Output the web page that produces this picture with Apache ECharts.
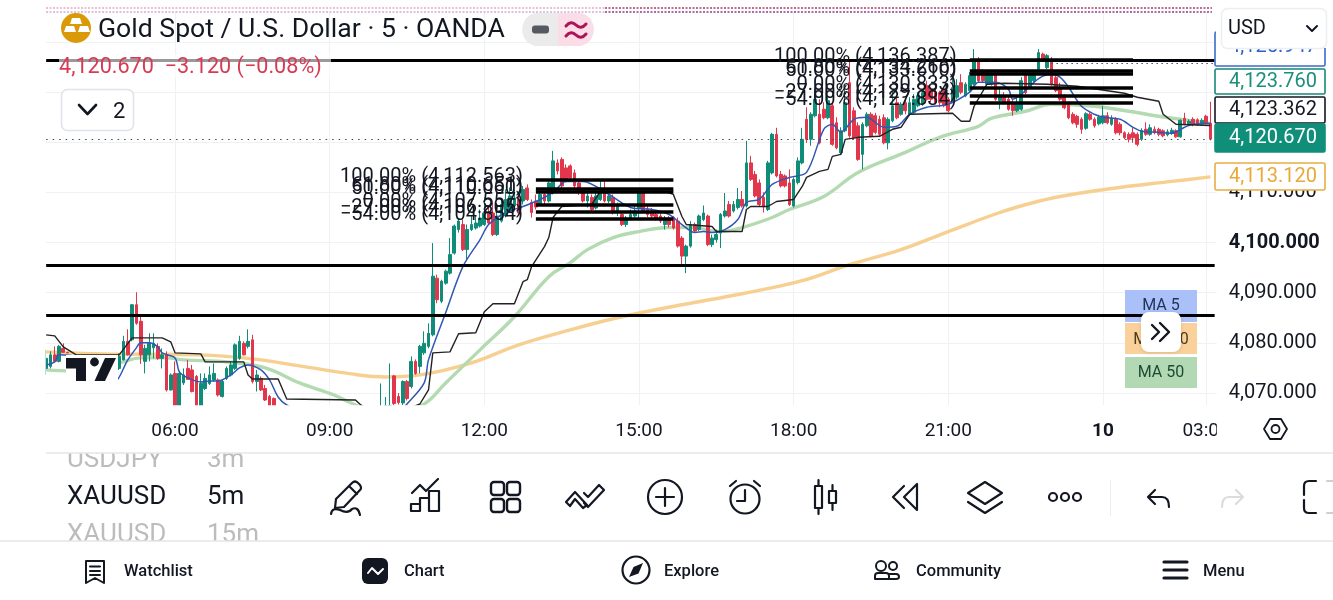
<!DOCTYPE html>
<html>
<head>
<meta charset="utf-8">
<style>html,body{margin:0;padding:0;background:#fff}#chart{width:1333px;height:600px}</style>
<script src="https://cdn.jsdelivr.net/npm/echarts@6/dist/echarts.min.js"></script>
</head>
<body>
<div id="chart"></div>
<script>
// XAUUSD 5-minute bars: [open, close, low, high]
const candles = [
[4074.9,4076.9,4073.6,4078.6],[4075.3,4077.6,4074.9,4078.3],[4077.6,4076.3,4076.1,4079.3],[4076.3,4079.3,4076.1,4079.6],[4078.9,4078.1,4078.0,4079.9],
[4078.1,4078.0,4077.9,4078.2],[4077,4076,4075.8,4077.2],[4076,4075,4074.5,4076.5],[4075,4075.4,4074.5,4076],[4075.4,4074.6,4074,4075.8],
[4074.6,4075.2,4074,4075.8],[4075.2,4074.2,4073.8,4075.6],[4074.2,4073.6,4073.2,4074.8],[4073.6,4074,4073,4074.4],[4074,4073.2,4072.8,4074.2],
[4073.6,4072.4,4072.2,4074],[4072.9,4075.3,4072.3,4077.3],[4074.9,4077.3,4074.6,4077.9],[4076.6,4080.3,4076.5,4081.4],[4080.3,4077.6,4077.5,4082.7],
[4080.6,4087.6,4080.3,4087.7],[4087.6,4083.9,4083.6,4090.1],[4084.3,4077.6,4075.8,4085.3],[4076.3,4078.9,4073.9,4079.6],[4077.6,4079.9,4076.3,4081.9],
[4079,4079.9,4076.9,4081.9],[4079.3,4076.9,4076.6,4079.9],[4076.9,4077.6,4074.9,4078.9],[4077.6,4070.6,4070.3,4078.3],[4070.6,4073.6,4070.5,4073.9],
[4073.9,4066.5,4065,4076.3],[4066.5,4073.9,4066,4074.3],[4072,4073.6,4071.6,4074.9],[4074.9,4072.7,4072.6,4076.6],[4074.6,4070.3,4070.1,4075.6],
[4073.3,4066.6,4065.5,4073.6],[4066.6,4071.9,4066,4073.9],[4070.9,4072.9,4070.6,4073.9],[4071.9,4073.6,4071.6,4075.3],[4072.6,4073.9,4072.3,4075.9],
[4072.6,4069.6,4069.3,4072.9],[4069.3,4072.3,4069.1,4072.6],[4072.9,4074.9,4072.6,4075.3],[4073.6,4075.6,4073.3,4076.3],[4074.9,4079.6,4074.6,4079.9],
[4076.9,4080.3,4076.6,4081.4],[4079.9,4077.6,4077.5,4080.3],[4079.3,4080.3,4078.9,4082.7],[4080.6,4072.3,4071.9,4081.6],[4072.3,4073.6,4070.3,4074.6],
[4072.9,4070.6,4070.4,4073.3],[4070.9,4068.6,4068.4,4071.6],[4069.3,4067.4,4066.8,4069.6],[4068.9,4067,4066,4069.1],[4067.3,4066.1,4065.4,4067.5],
[4066.1,4065.4,4064.8,4066.6],[4065.4,4064.7,4064.2,4065.9],[4064.7,4065.3,4064.1,4065.8],[4065.3,4064.4,4063.9,4065.6],[4064.4,4063.8,4063.2,4064.9],
[4063.8,4064.5,4063.4,4064.9],[4064.5,4063.6,4063.1,4064.8],[4063.6,4063.1,4062.6,4064],[4063.1,4063.7,4062.8,4064.1],[4063.7,4062.9,4062.4,4064],
[4062.9,4063.4,4062.5,4063.8],[4063.4,4062.6,4062.2,4063.7],[4062.6,4063.2,4062.3,4063.6],[4063.2,4062.7,4062.2,4063.5],[4062.7,4063.5,4062.4,4063.9],
[4063.5,4063,4062.6,4063.9],[4063,4063.8,4062.7,4064.1],[4063.8,4063.2,4062.8,4064.2],[4063.2,4064,4062.9,4064.4],[4064,4063.5,4063.1,4064.3],
[4063.5,4064.4,4063.2,4064.8],[4064.4,4064.9,4064,4065.6],[4064.9,4065.6,4064.5,4066.4],[4065.6,4067.3,4065.3,4071.9],[4066.5,4067.5,4066,4069.2],
[4067,4067.5,4066.6,4075.9],[4073.4,4067.9,4067.5,4073.6],[4069.3,4068.1,4067.7,4070],[4068,4072.3,4067.6,4072.5],[4072.3,4068.9,4068.5,4072.6],
[4071.3,4076.3,4070.9,4077.3],[4076.3,4073.9,4073.6,4076.7],[4075.3,4079.3,4073.9,4079.6],[4078,4079.9,4077.6,4082.3],[4079.3,4081.9,4078.9,4083.9],
[4081.6,4093.3,4081.3,4099.9],[4092.9,4088.6,4087.9,4093.6],[4088.3,4092.3,4087.9,4092.6],[4091.9,4094.3,4091.6,4094.6],[4093.9,4097.6,4093.6,4100.9],
[4097.9,4103.3,4097.6,4103.6],[4102.6,4104.3,4102,4104.8],[4103.6,4098.6,4098.3,4104.6],[4098.6,4102.6,4096.6,4103.6],[4102.6,4103.6,4102.3,4105.3],
[4102.9,4103.9,4102.6,4105.3],[4103.3,4104.9,4103,4106.6],[4103.6,4105.9,4103.3,4109],[4105.9,4103.9,4103.6,4107],[4105.9,4101.6,4101.3,4107.9],
[4101.6,4105.3,4101.3,4106.6],[4104.3,4107.6,4104,4108.6],[4105.3,4108.6,4105,4110.6],[4106.3,4109.3,4106,4111],[4107.3,4108.9,4107,4110.6],
[4108.6,4105.9,4105.6,4109.6],[4108.3,4110.6,4107.6,4111.3],[4110.9,4108.6,4108.3,4111.6],[4108,4106,4105,4108.6],[4108.3,4107.1,4106.6,4109.6],
[4107.6,4109.6,4107.3,4110.6],[4109.6,4108.3,4107.6,4110.3],[4108.3,4111.9,4108,4112.3],[4109.9,4116.3,4109.6,4118.3],[4115.9,4114.3,4113.6,4116.6],
[4116.6,4111.3,4110.9,4117],[4114.9,4112.6,4112,4115.6],[4115.3,4112.9,4112.4,4115.6],[4113.9,4111.3,4110.9,4114.6],[4111.9,4110,4109.5,4112.6],
[4110.3,4108.3,4108,4110.6],[4108.3,4109.3,4107,4109.9],[4109,4106.6,4106.3,4109.6],[4106.9,4109.3,4106.6,4110],[4108.6,4109.9,4108.3,4112.3],
[4110,4108.3,4108,4112.3],[4108.3,4109.3,4107.9,4109.8],[4109,4106,4105.6,4109.6],[4106.3,4107.4,4105.3,4108],[4105.6,4103.6,4103.3,4106.3],
[4103.6,4104.9,4103.1,4105.3],[4104.9,4105.6,4104.4,4106.6],[4105.3,4106.3,4105,4107.3],[4106.9,4109.9,4104.6,4110.3],[4109.9,4106.3,4106,4110.3],
[4106.6,4105.6,4105.1,4107.6],[4106.3,4105.3,4104.8,4106.9],[4105.6,4104.9,4104.4,4106],[4105.3,4104.3,4103.9,4105.8],[4103.6,4104.9,4102.6,4105.3],
[4104.9,4103.6,4103,4105.3],[4105,4102.9,4102.6,4105.3],[4104.3,4099.3,4099,4105],[4100.9,4097.3,4095.6,4101.3],[4097.3,4099.3,4093.9,4099.6],
[4099.3,4103.6,4099,4104.3],[4103.6,4102.3,4102,4104],[4102.6,4105.3,4102.3,4105.6],[4104.6,4105.9,4104.3,4107.4],[4105.3,4099.6,4099.3,4105.6],
[4099.6,4100.9,4099.1,4101.6],[4100.6,4101.6,4100,4102.6],[4101.9,4105.6,4098.9,4105.9],[4105.3,4106.3,4105,4109.9],[4107.6,4105.3,4105,4108.3],
[4106.3,4107.6,4106,4108.3],[4107,4108.6,4106.6,4110.9],[4108.6,4107.3,4107,4110.3],[4107.3,4115.9,4107,4120.3],[4115.9,4112.6,4112.3,4117.3],
[4113.6,4109.3,4109,4114.3],[4111.9,4107.6,4107.3,4112.6],[4109,4107.1,4106,4110],[4106.6,4115.9,4106.3,4116.3],[4113.9,4121.6,4113.6,4121.9],
[4121.6,4113.3,4113,4122.9],[4113.6,4111.3,4111,4114.3],[4113.3,4111.3,4111,4113.6],[4111.9,4107.6,4107.3,4114.6],[4107.3,4112.6,4107,4113],
[4112,4116.3,4111.6,4117],[4115.9,4120.6,4115.6,4122.9],[4124.6,4120.6,4119.9,4127],[4120.6,4125.6,4119.3,4126],[4125.3,4128.6,4125,4130.6],
[4125.6,4119.9,4119.6,4128.6],[4126.6,4124.9,4124.6,4128],[4124.9,4128.3,4124.6,4129],[4127.3,4119.6,4119.3,4128],[4123.9,4118.9,4118.6,4125],
[4117.9,4122.3,4117.6,4123],[4122.3,4127.9,4122,4131],[4131.9,4121.3,4120.9,4136.3],[4126.3,4120.9,4120.6,4127],[4123.3,4116.6,4116.3,4124],
[4117.6,4123.6,4114.6,4124],[4123.3,4125.6,4123,4126],[4125.6,4121.3,4121,4126],[4125.3,4122,4121.6,4125.9],[4124.6,4121.6,4121.3,4125.3],
[4124.9,4119.9,4119.6,4125.6],[4119.9,4124.6,4118.6,4125],[4124.3,4127.3,4124,4130.6],[4127.9,4124.9,4124.6,4129],[4125.6,4127.6,4125.3,4128],
[4127.9,4126.3,4125.6,4128.6],[4125.6,4127.9,4125.3,4129],[4126,4128.6,4125.6,4129.6],[4127.3,4129.3,4127,4130],[4127.6,4129.9,4127.3,4130.6],
[4131.3,4128.6,4128.3,4132.3],[4130.6,4128.6,4128,4131],[4129.9,4127.9,4127.6,4130.6],[4129.9,4127.9,4127,4130.3],[4130.6,4127.3,4127,4131],
[4128.6,4126.3,4126,4129],[4128.3,4130.9,4127.9,4133],[4129,4131.3,4128.6,4132.6],[4131.9,4130,4129.6,4133.6],[4129.3,4131.6,4129,4132],
[4130.3,4133.3,4130,4134],[4131.6,4136.3,4131.3,4138.6],[4136.3,4132.3,4132,4137],[4134.3,4132.3,4132,4134.6],[4131.6,4133.9,4131.3,4134.3],
[4131.6,4133.7,4131.3,4134],[4133.7,4128.6,4128.3,4134],[4128.3,4129.3,4126.6,4131],[4129.3,4128,4127.6,4130],[4128.6,4126.6,4126.3,4129.3],
[4127.9,4126.3,4125.3,4128.6],[4126.3,4127.9,4126,4129],[4126.6,4132.3,4126.3,4133],[4133.6,4129.9,4129.6,4134],[4130.9,4133.6,4130.6,4134.3],
[4132.3,4133.6,4132,4134.3],[4134.6,4137.9,4134.3,4138.6],[4137.6,4136.3,4136,4137.9],[4134.9,4137.3,4134.6,4137.6],[4136.6,4131.6,4131.3,4137],
[4132.9,4130.3,4130,4133.3],[4130.9,4128.6,4128.3,4131.9],[4129.3,4126.9,4126.6,4129.6],[4127.6,4124.9,4124.6,4128],[4125.6,4123.9,4123.6,4126],
[4125.2,4123.6,4122.9,4125.5],[4124.6,4122.6,4121.7,4125],[4122.8,4125.7,4122.5,4126],[4125.6,4124.6,4124.3,4126],[4124.6,4123.3,4122.9,4125],
[4123.7,4125,4123.4,4125.5],[4123.9,4125.3,4123.6,4127.3],[4125.3,4123.9,4123.6,4126],[4123.6,4124.8,4123.3,4125.4],[4124.6,4121.9,4121.6,4125],
[4123.6,4121.9,4121.4,4124],[4121.9,4120.9,4120.6,4122.2],[4121.6,4120.6,4120,4122],[4121.9,4120.9,4119.9,4122.9],[4121.6,4119.6,4119.2,4122],
[4120.6,4122.4,4120.3,4122.8],[4122.6,4121.6,4121.3,4124],[4121.6,4122.9,4121.3,4123.6],[4122.6,4121.9,4121.6,4123.2],[4122.6,4121.6,4121.2,4122.9],
[4122.3,4121.3,4121,4122.6],[4121.5,4122.1,4121.2,4122.6],[4121.8,4122.4,4121.5,4122.9],[4122.3,4121.1,4120.9,4122.6],[4121.1,4124.4,4120.9,4124.6],
[4124.8,4123.7,4123.4,4125.9],[4123.7,4124.2,4123.4,4124.6],[4124.6,4123.6,4123.2,4125],[4124.5,4123.6,4123.3,4124.8],[4123.7,4124.4,4123.4,4124.8],
[4125.2,4123.9,4123.6,4125.5],[4123.79,4120.67,4120.4,4128.1]
];

// Moving averages and the stepped trend line: [bar number, price]
const ma200 = [[0,4078.2],[13,4077.8],[36,4077.6],[48,4076.8],[59,4075.4],[71,4073.8],[79,4073.2],[87,4073.6],[99,4076],[110,4079.6],[122,4082.6],[134,4085.2],[148,4087.6],[162,4089.8],[176,4092.4],[187,4095.6],[199,4098.6],[210,4102.2],[222,4106],[229,4107.8],[236,4109.2],[248,4110.8],[262,4112.2],[271,4113.12]];
const ma50 = [[0,4074.6],[6,4074.4],[17,4076],[22,4077],[28,4077],[32,4076.6],[42,4076.2],[51,4075],[59,4072],[67,4069.6],[71,4068],[77,4066.2],[82,4066.2],[88,4067.8],[93,4072],[101,4078.6],[109,4085.2],[117,4093.2],[122,4096],[126,4098.6],[132,4101],[138,4102.2],[145,4103],[150,4103],[157,4102.2],[162,4103],[169,4105],[173,4106.6],[181,4109.2],[189,4114],[200,4118],[208,4121],[217,4123.2],[220,4124.8],[228,4126.2],[234,4127.6],[244,4127.2],[252,4126.2],[259,4125.2],[264,4124.6],[271,4123.76]];
const ma5 = [[0,4075.6],[2,4076.2],[3,4077.6],[13,4076],[16,4072.2],[19,4076.6],[21,4079],[22,4080],[24,4080],[26,4079.2],[27,4078],[30,4077],[31,4074.2],[33,4073],[36,4072.2],[38,4072.4],[40,4072.4],[43,4073.6],[45,4075],[47,4075.6],[50,4074.6],[52,4072.6],[54,4069.2],[56,4067.6],[64,4064.6],[78,4062.6],[84,4067.8],[88,4072],[89,4076.6],[93,4086],[97,4095.2],[101,4100.6],[103,4103.6],[107,4106],[111,4107.2],[115,4108.6],[118,4110],[121,4112.2],[125,4112.2],[131,4109.6],[136,4107],[141,4106.6],[145,4105.6],[148,4103.6],[151,4102],[153,4102.2],[155,4102],[158,4102.6],[161,4104.6],[163,4108],[166,4108.6],[169,4111.6],[173,4113],[177,4114],[181,4122.6],[183,4123.6],[185,4122],[188,4124.6],[191,4125],[195,4123],[198,4123.2],[201,4125.6],[205,4127],[210,4127.6],[215,4130],[217,4132],[221,4132],[224,4130.6],[225,4128.6],[227,4129.6],[230,4132],[232,4133.2],[234,4133.6],[236,4133],[238,4131],[241,4127.2],[244,4125.6],[246,4125],[250,4124.6],[253,4123],[255,4122.2],[259,4122],[262,4121.8],[265,4123],[267,4123.6],[271,4123.8]];
const trendLine = [[0,4081.6],[2,4081.4],[4,4079.2],[7,4077.6],[17,4077.6],[20,4081],[27,4081],[29,4080.2],[30,4078],[36,4077.8],[37,4076.2],[46,4076.2],[47,4073.6],[48,4072.8],[54,4072.8],[56,4068.8],[72,4068.6],[73,4067.8],[78,4064.6],[87,4067.8],[89,4070.6],[90,4078],[94,4078.2],[96,4081.8],[100,4082],[102,4086.2],[104,4087.8],[109,4087.8],[111,4092.2],[112,4092.6],[113,4095.2],[116,4099.2],[117,4101],[118,4105],[120,4107.2],[127,4107.6],[129,4110.2],[144,4110.2],[146,4109.6],[148,4105.2],[149,4103.6],[155,4103.2],[156,4102.2],[162,4102.2],[163,4106.6],[164,4107.2],[168,4107.2],[170,4108.2],[174,4108.6],[176,4111.2],[177,4113],[180,4114.2],[182,4114.6],[183,4117.2],[185,4117.6],[186,4120.6],[189,4121],[194,4121.2],[197,4122.6],[199,4123],[201,4125.6],[211,4125.8],[213,4124.2],[215,4124.2],[216,4127.2],[219,4131.6],[223,4131.8],[233,4131.6],[240,4131.2],[251,4129.8],[254,4129],[259,4128.2],[260,4125.6],[263,4123.6],[271,4123.362]];

// Time axis labels keyed by bar number
const tickBars = [30,66,102,138,174,210,246,270];
const tickNames = ['06:00','09:00','12:00','15:00','18:00','21:00','10','03:00'];
const barCount = 273;
const categories = Array.from({length: barCount}, (_, i) => String(i));

const priceTicks = [4070,4080,4090,4100,4110,4120,4130,4140];
const lastPrice = 4120.67;

// Horizontal levels drawn across the whole chart
const hLevels = [4136.4, 4095.4, 4085.6];

// Fibonacci retracement tools: percent labels, level prices and spanned bars
const fibPercents = ['100.00%','61.80%','50.00%','0.00%','\u221227.00%','\u221254.00%'];
const fibPricesA = [4112.563,4110.651,4110.060,4107.557,4106.205,4104.854];
const fibPricesB = [4136.387,4134.266,4133.610,4130.833,4129.334,4127.834];
const fibBarsA = [114,146];
const fibBarsB = [215,253];

const INK = '#131722';
const UP = '#108d79';
const DOWN = '#e2364c';

const fmt = v => v.toLocaleString('en-US', {minimumFractionDigits: 3, maximumFractionDigits: 3});

function fibLines(prices, bars) {
  return prices.map((p, k) => [
    {coord: [bars[0], p], label: {show: true, position: 'start', distance: 13, formatter: fibPercents[k] + ' (' + fmt(p) + ')', color: INK, fontSize: 20, fontFamily: 'Roboto', offset: [0, -3]}, lineStyle: {color: '#000', width: 3.6, type: 'solid'}},
    {coord: [bars[1], p]}
  ]);
}

const levelLines = hLevels.map(v => [
  {coord: [0, v], label: {show: false}, lineStyle: {color: '#000', width: 3.2, type: 'solid'}},
  {coord: [barCount - 1, v]}
]);
const priceDots = [[
  {coord: [0, lastPrice], label: {show: false}, lineStyle: {color: '#3c4a52', width: 1.2, type: [1.5, 5]}},
  {coord: [barCount - 1, lastPrice]}
], [
  {coord: [234, 4135.7], label: {show: false}, lineStyle: {color: '#3d4a9a', width: 1.2, type: [1.5, 3.5]}},
  {coord: [barCount - 1, 4135.7]}
]];

// Interface chrome around the plot
const g = [];
let glyphCount = 0;
const T = (x, y, text, size, opt = {}) => g.push({
  type: 'text', z: opt.z ?? 32, silent: true,
  style: {x, y: y + 2, text, fill: opt.fill || INK, font: (opt.weight || 400) + ' ' + size + 'px Roboto', textAlign: opt.align || 'left', textVerticalAlign: 'middle', opacity: opt.opacity ?? 1}
});
const R = (x, y, w, h, fill, opt = {}) => g.push({
  type: 'rect', z: opt.z ?? 30, silent: true,
  shape: {x, y, width: w, height: h, r: opt.r || 0},
  style: {fill, stroke: opt.stroke || null, lineWidth: opt.lw || 1, opacity: opt.opacity ?? 1, shadowBlur: opt.blur || 0, shadowColor: opt.shadow || 'transparent', shadowOffsetY: opt.sy || 0}
});
// SVG-path glyphs are registered as graphic shapes, one class per outline
const P = (d, opt = {}) => {
  const name = 'glyph' + (glyphCount++);
  echarts.graphic.registerShape(name, echarts.graphic.extendPath(d, {}));
  g.push({
    type: name, z: opt.z ?? 32, silent: true, shape: {},
    style: {fill: opt.fill || 'none', stroke: opt.fill && !opt.stroke ? null : (opt.stroke || INK), lineWidth: opt.lw || 2.2, lineCap: 'round', lineJoin: 'round'}
  });
};
const C = (x, y, r, opt = {}) => g.push({
  type: 'circle', z: opt.z ?? 32, silent: true,
  shape: {cx: x, cy: y, r},
  style: {fill: opt.fill || 'none', stroke: opt.fill && !opt.stroke ? null : (opt.stroke || INK), lineWidth: opt.lw || 2.2}
});
const L = (x1, y1, x2, y2, color, opt = {}) => g.push({
  type: 'line', z: opt.z ?? 30, silent: true,
  shape: {x1, y1, x2, y2},
  style: {stroke: color, lineWidth: opt.lw || 1, lineDash: opt.dash || null}
});

// Plot edges: bars running past the window are trimmed here
R(0, 14, 45.7, 391, '#fff', {z: 20});
R(0, 405.2, 1216.8, 36, '#fff', {z: 20});

// Alert level dots along the top edge
L(46, 8, 605, 8, '#e7aac8', {dash: [2, 1.5], lw: 1.4});
L(46, 12, 605, 12, '#cdb0d8', {dash: [2, 1.5], lw: 1.4});
L(605, 8, 1212, 8, '#b0386f', {dash: [2, 1.5], lw: 1.5});
L(605, 12, 1212, 12, '#8a3f86', {dash: [2, 1.5], lw: 1.5});

// Symbol badge and title
C(76, 28, 15, {fill: '#da9a07'});
P('M72 18h8l2 6H70zM64 32l2-6h8l2 6zM78 32l2-6h8l2 6z', {fill: '#fff'});
T(98, 28, 'Gold Spot / U.S. Dollar \u00b7 5 \u00b7 OANDA', 26.6, {fill: '#131722'});
P('M558 13H535A17 17 0 0 0 535 46H558Z', {fill: '#ebebeb'});
P('M558 13H581A17 17 0 0 1 581 46H558Z', {fill: '#fadde7'});
R(532, 25.5, 17, 8, '#555a60', {r: 3, z: 33});
P('M566 26Q571 20 576 25T586 24M566 36Q571 30 576 35T586 34', {stroke: '#ad1457', lw: 3, z: 33});

// Quote line over the top level
R(59, 54, 272, 24, '#fff', {opacity: 0.6, z: 31});
T(59, 66, '4,120.670  \u22123.120 (\u22120.08%)', 21.6, {fill: '#d83a54'});

// Collapsed indicators control
R(61.5, 89.5, 72, 41, '#fff', {r: 6, stroke: '#e0e3eb', lw: 1.6});
P('M79 105L87.5 114L96 105', {lw: 2.6});
T(113, 110, '2', 22);

// Watermark with its white backing
R(66, 355, 52, 30, '#fff');
P('M66 358H86V381H76V368.5H66Z', {fill: '#131722'});
C(94.5, 362, 4.4, {fill: '#131722'});
P('M105 358H116L105 381H94.5Z', {fill: '#131722'});

// Indicator shortcut chips, under the levels
R(1125, 290, 72, 32, '#a9c0f8', {z: 1});
R(1125, 323, 72, 31, '#fad19a', {z: 1});
R(1125, 357, 72, 31, '#b2d9b3', {z: 1});
T(1161, 304, 'MA 5', 16, {align: 'center', fill: '#1f3358', z: 1});
T(1161, 338, 'MA 200', 16, {align: 'center', fill: '#4f3c17', z: 1});
T(1161, 371, 'MA 50', 16, {align: 'center', fill: '#1c4a33', z: 1});
R(1141, 312, 40, 40, '#fff', {r: 8, blur: 4, shadow: 'rgba(0,0,0,0.12)', sy: 1});
P('M1152 325L1159 332L1152 339M1160 323L1169 332L1160 341', {lw: 2.4});

// Price scale tags, blue one tucked under the currency selector
const tag = (y, h, value, border, text, fill, textY) => {
  R(1215, y, 110, h, fill || '#fff', {stroke: border, lw: 1.6, r: 1.5, z: 34});
  T(1273, textY ?? (y + h / 2 - 2), value, 20, {align: 'center', fill: text, z: 35});
};
tag(32, 34, '4,125.947', '#3b6bc9', '#2a62c8', null, 45);
R(1216, 0, 117, 48, '#fff', {z: 36});
R(1221.5, 8.5, 105, 40, '#fff', {r: 6, stroke: '#eceef2', lw: 1.5, z: 37});
T(1228, 27, 'USD', 20, {z: 38});
P('M1307 26L1312 31L1317 26', {lw: 2, z: 38});
tag(69, 25, '4,123.760', '#14897a', '#1b8f7c');
tag(97, 26, '4,123.362', '#131722', '#131722');
tag(124, 28, '4,120.670', '#0f8f7a', '#ffffff', '#0f8f7a');
tag(163, 27, '4,113.120', '#e7ad41', '#e9a83a');

// Trim of the time scale and the settings hexagon
R(1216.8, 415, 116, 30, '#fff', {z: 45});
P('M1264 429L1270 419H1281L1287 429L1281 439H1270Z', {lw: 1.8, z: 46});
C(1275.5, 429, 4, {lw: 1.8, z: 46});

// Symbol wheel
T(67, 458, 'USDJPY', 26, {fill: '#bcbcbc'});
T(207, 458, '3m', 26, {fill: '#bcbcbc'});
T(67, 495, 'XAUUSD', 26);
T(207, 495, '5m', 26);
T(67, 533, 'XAUUSD', 26, {fill: '#bcbcbc'});
T(207, 533, '15m', 26, {fill: '#bcbcbc'});
R(0, 441, 1333, 12, '#fff', {z: 33});
L(46, 453, 1333, 453, '#e6e6e6', {z: 34, lw: 1.5});
R(0, 541, 1333, 59, '#fff', {z: 33});
L(0, 541, 1333, 541, '#e6e6e6', {z: 34, lw: 1.5});

// Drawing toolbar
P('M336 499L352 483Q355 480 358 483L360 485Q362 488 360 490L344 507L335 508ZM349 486L357 494');
P('M331 514Q332 507 340 510Q348 514 352 509Q358 506 360 515');
P('M412 493L420 485L426 491L438 479');
P('M411 511V504H420V511ZM420 511V498H429V511M429 511V491H439V511Z');
[491, 507].forEach(x => [482, 499].forEach(y => R(x, y, 13, 13, 'none', {r: 3, stroke: INK, lw: 2.4, z: 32})));
P('M566 502L575 492L587 505L583 508L575 499L570 506ZM584 493L588 497L599 485L604 490L588 507L584 503', {lw: 2.2});
C(665, 497, 17);
P('M665 488V506M656 497H674');
C(745, 499, 14.5);
P('M745 490V501H737M730 486L736 481M760 486L754 481');
P('M815 486H822V508H815ZM818.5 480V486M818.5 508V514M829 491H836V503H829ZM832.5 485V491M832.5 503V510');
P('M917 484V510L904 497ZM904 486L893 497L904 508');
P('M985 482L1002 493L985 504L968 493ZM968 502L985 513L1002 502');
C(1053, 497, 4);
C(1065, 497, 4);
C(1077, 497, 4);
L(1110.5, 480, 1110.5, 516, '#eeeeee', {z: 32});
P('M1155 490L1148 497L1155 504M1148 497H1162Q1169 497 1169 507');
P('M1236 490L1243 497L1236 504M1243 497H1229Q1222 497 1222 507', {stroke: '#dcdcdc'});
P('M1316 481H1309Q1304 481 1304 486V495M1304 500V508Q1304 513 1309 513H1316');
P('M1327 481H1333M1327 513H1333', {stroke: '#cfcfcf'});

// Bottom navigation
P('M86 561H104V583L95 578L86 583ZM90 566.5H100M90 571H100M90 575H100', {lw: 2, z: 34});
T(124, 569.5, 'Watchlist', 16.5, {weight: 500, z: 34});
R(362, 558, 26, 26, '#131722', {r: 6, z: 34});
P('M368 573L372 568L378 574L383 569', {stroke: '#fff', lw: 2, z: 35});
T(404, 569.5, 'Chart', 16.5, {weight: 500, z: 34});
C(636, 570, 13.5, {z: 34});
P('M643 563L638.5 573.5L629 577L633.5 567Z', {fill: '#131722', z: 34});
T(664, 569.5, 'Explore', 16.5, {weight: 500, z: 34});
C(881, 566, 5, {lw: 2, z: 34});
C(893, 566, 4, {lw: 2, z: 34});
P('M875 579V576Q875 573 878 573H886Q889 573 889 576V579ZM889 574H896Q899 574 899 577Q899 579 896 579H889', {lw: 2, z: 34});
T(916, 569.5, 'Community', 16.5, {weight: 500, z: 34});
P('M1164 562H1187M1164 570H1187M1164 578H1187', {lw: 3.2, z: 34});
T(1203, 569.5, 'Menu', 16.5, {weight: 500, z: 34});

const tickMap = Object.fromEntries(tickBars.map((b, i) => [b, tickNames[i]]));
const isTick = i => i in tickMap;

const option = {
  animation: false,
  backgroundColor: '#fff',
  grid: {left: 44, right: 116.2, top: 12, bottom: 195},
  xAxis: [{
    // carries the bars and the vertical grid
    type: 'category', data: categories,
    axisLine: {show: false}, axisTick: {show: false, alignWithLabel: true, interval: isTick},
    splitLine: {show: true, alignWithLabel: true, interval: isTick, lineStyle: {color: '#f0f1f3', width: 1}},
    axisLabel: {show: false}
  }, {
    // time labels, kept above the plot edge
    type: 'category', data: categories, position: 'bottom', z: 40,
    axisLine: {show: false}, axisTick: {show: false}, splitLine: {show: false},
    axisLabel: {
      interval: isTick, margin: 17, color: INK, fontFamily: 'Roboto', fontSize: 19,
      formatter: (v, i) => tickMap[i] === '10' ? '{b|10}' : tickMap[i],
      rich: {b: {fontWeight: 700, fontSize: 19, fontFamily: 'Roboto', color: INK}}
    }
  }],
  yAxis: {
    type: 'value', position: 'right', min: 4067.6, max: 4146, scale: true,
    axisLine: {show: false},
    axisTick: {show: false, customValues: priceTicks},
    splitLine: {show: true, lineStyle: {color: '#f0f1f3', width: 1}},
    axisLabel: {
      customValues: priceTicks, inside: false, margin: 12, color: INK, fontFamily: 'Roboto', fontSize: 20,
      align: 'left',
      formatter: v => v > 4110 ? '' : (v === 4100 ? '{b|' + fmt(v) + '}' : fmt(v)),
      rich: {b: {fontWeight: 700, fontSize: 20, fontFamily: 'Roboto', color: INK}}
    }
  },
  graphic: g,
  series: [
    {type: 'line', name: 'MA 200', z: 1, data: ma200, showSymbol: false, smooth: 0.4, lineStyle: {color: '#f7cf90', width: 3.4}},
    {type: 'line', name: 'MA 50', z: 1, data: ma50, showSymbol: false, smooth: 0.4, lineStyle: {color: '#b3dab0', width: 3.4}},
    {type: 'candlestick', name: 'XAUUSD', z: 2, data: candles, barWidth: 3.2,
      itemStyle: {color: UP, color0: DOWN, borderColor: UP, borderColor0: DOWN, borderWidth: 1}},
    {type: 'line', name: 'MA 5', z: 3, data: ma5, showSymbol: false, smooth: 0.3, lineStyle: {color: '#3157b5', width: 1.5}},
    {type: 'line', name: 'Trend', z: 3, data: trendLine, showSymbol: false, lineStyle: {color: '#222', width: 1.4},
      markLine: {silent: true, symbol: 'none', animation: false,
        data: [...priceDots, ...levelLines, ...fibLines(fibPricesA, fibBarsA), ...fibLines(fibPricesB, fibBarsB)]}}
  ]
};
echarts.init(document.getElementById('chart'), null, {renderer: 'canvas'}).setOption(option);
</script>
</body>
</html>
